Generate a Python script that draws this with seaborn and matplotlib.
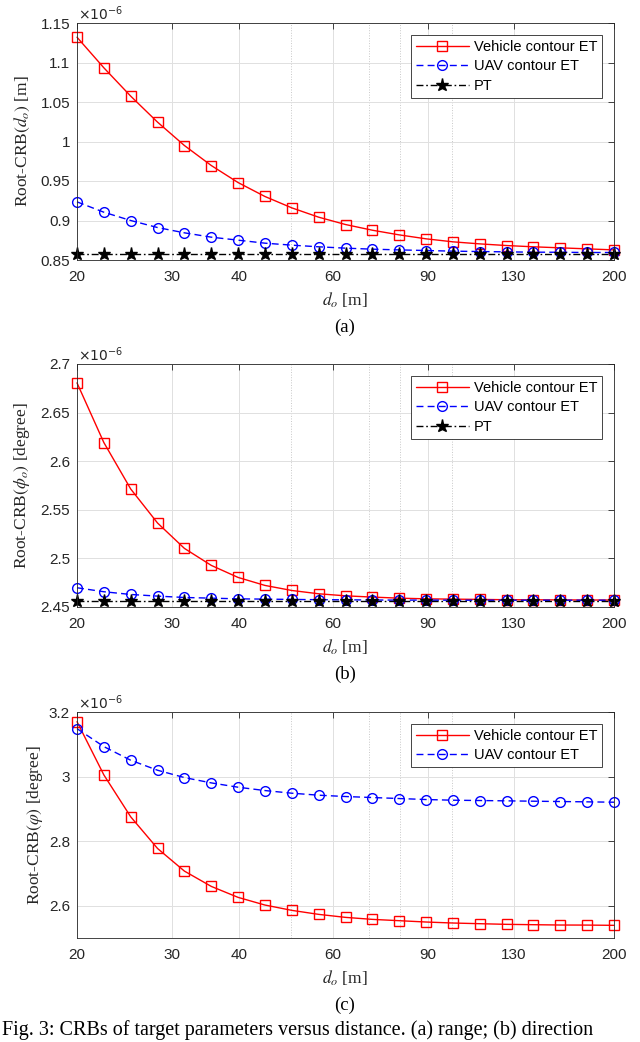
import matplotlib
matplotlib.use("Agg")
import matplotlib.pyplot as plt
import seaborn as sns
from matplotlib.ticker import NullFormatter

# distance grid (21 log-spaced points, metres)
d_o = [20.0, 22.44, 25.18, 28.25, 31.70, 35.57, 39.91, 44.77, 50.24, 56.37, 63.25,
       70.96, 79.62, 89.34, 100.24, 112.47, 126.19, 141.59, 158.87, 178.25, 200.0]

# (a) Root-CRB of range, in units of 1e-6 m
range_vehicle = [1.132, 1.0933, 1.0574, 1.0245, 0.9949, 0.9696, 0.948, 0.9304, 0.916, 0.9042, 0.8949,
                 0.8877, 0.8818, 0.8768, 0.873, 0.8704, 0.8683, 0.8667, 0.8654, 0.8641, 0.8628]
range_uav = [0.9236, 0.9105, 0.900, 0.8911, 0.8844, 0.8789, 0.8751, 0.8713, 0.8688, 0.8667, 0.865,
             0.8637, 0.8628, 0.862, 0.8612, 0.8607, 0.8603, 0.8599, 0.8598, 0.8595, 0.8595]
range_pt = [0.8578, 0.8578, 0.8578, 0.8578, 0.8578, 0.8578, 0.8578, 0.8578, 0.8578, 0.8578, 0.8578,
            0.8578, 0.8578, 0.8578, 0.8578, 0.8578, 0.8578, 0.8578, 0.8578, 0.8578, 0.8578]

# (b) Root-CRB of phi_o, in units of 1e-6 degree
phi_vehicle = [2.6806, 2.6192, 2.5714, 2.5364, 2.5103, 2.4928, 2.4804, 2.4722, 2.467, 2.4636, 2.4615,
               2.4602, 2.4591, 2.4584, 2.4581, 2.4578, 2.4575, 2.4574, 2.4573, 2.4572, 2.4572]
phi_uav = [2.4698, 2.4657, 2.4629, 2.4612, 2.4598, 2.4591, 2.4584, 2.4581, 2.4578, 2.4575, 2.4574,
           2.4572, 2.4571, 2.4571, 2.4570, 2.4570, 2.4570, 2.4570, 2.4570, 2.4570, 2.4570]
phi_pt = [2.4564, 2.4564, 2.4564, 2.4564, 2.4564, 2.4564, 2.4564, 2.4564, 2.4564, 2.4564, 2.4564,
          2.4564, 2.4564, 2.4564, 2.4564, 2.4564, 2.4564, 2.4564, 2.4564, 2.4564, 2.4564]

# (c) Root-CRB of varphi, in units of 1e-6 degree
vphi_vehicle = [3.1701, 3.0052, 2.8753, 2.7773, 2.7072, 2.6598, 2.6258, 2.6021, 2.5856, 2.5732, 2.5639,
                2.5577, 2.5536, 2.5495, 2.5464, 2.5443, 2.5423, 2.5412, 2.5402, 2.5400, 2.5392]
vphi_uav = [3.1485, 3.0928, 3.0506, 3.0196, 2.9969, 2.9804, 2.967, 2.9567, 2.9485, 2.9423, 2.9382,
            2.9351, 2.932, 2.9289, 2.9268, 2.9258, 2.9248, 2.9237, 2.9227, 2.9217, 2.9206]

x_ticks = [20, 30, 40, 60, 90, 130, 200]
x_minor = [50, 70, 80, 100]

sns.set_theme(style="white")
plt.rcParams["mathtext.fontset"] = "stix"
plt.rcParams["font.family"] = ["Liberation Sans", "DejaVu Sans"]

W, H = 640, 1042
fig = plt.figure(figsize=(W / 100, H / 100), dpi=100)
fig.patch.set_facecolor("white")

axis_col = "#262626"
serif = ["Liberation Serif", "DejaVu Serif"]


def px_axes(left, top, right, bottom):
    return fig.add_axes([left / W, 1 - bottom / H, (right - left) / W, (bottom - top) / H])


def style_axes(ax, ylim, yticks, ylabels):
    ax.set_xscale("log")
    ax.set_xlim(20, 200)
    ax.set_ylim(*ylim)
    ax.set_xticks(x_ticks, labels=[str(t) for t in x_ticks])
    ax.set_xticks(x_minor, minor=True)
    ax.xaxis.set_minor_formatter(NullFormatter())
    ax.set_yticks(yticks, labels=ylabels)
    ax.tick_params(axis="both", which="major", direction="in", length=4, width=0.6,
                   colors=axis_col, labelsize=11, top=True, right=True)
    ax.tick_params(axis="x", which="major", pad=7)
    ax.tick_params(axis="y", which="major", pad=5)
    ax.tick_params(which="minor", length=0)
    ax.grid(which="major", color="#e0e0e0", linewidth=0.7)
    ax.grid(which="minor", axis="x", color="#c8c8c8", linestyle=":", linewidth=0.7)
    ax.set_axisbelow(True)
    for s in ax.spines.values():
        s.set_color(axis_col)
        s.set_linewidth(0.6)
    for lab in ax.get_xticklabels() + ax.get_yticklabels():
        lab.set_fontfamily(["Liberation Sans", "DejaVu Sans"])


def draw(ax, y, label, color, ls, marker, ms, mfc):
    sns.lineplot(x=d_o, y=y, ax=ax, color=color, linestyle=ls, linewidth=1.0,
                 marker=marker, markersize=ms, markerfacecolor=mfc,
                 markeredgecolor=color, markeredgewidth=1.0, label=label,
                 clip_on=False, legend=False)


def add_legend(ax):
    leg = ax.legend(loc="upper right", fontsize=10.5, frameon=True, fancybox=False,
                    edgecolor=axis_col, framealpha=1, handlelength=3.6, handletextpad=0.35,
                    labelspacing=0.38, borderpad=0.35, borderaxespad=0.8)
    leg.get_frame().set_linewidth(0.6)
    for t in leg.get_texts():
        t.set_color("black")


def labels(left, top, bottom, ylab, ylab_x, letter):
    mid = (top + bottom) / 2
    fig.text(ylab_x / W, 1 - mid / H, ylab, rotation=90, ha="center", va="center",
             fontsize=12.5, family=serif, color=axis_col)
    fig.text(345 / W, 1 - (bottom + 40) / H, r"$d_o$ [m]", ha="center", va="center",
             fontsize=12.5, family=serif, color=axis_col)
    fig.text(345 / W, 1 - (bottom + 67) / H, letter, ha="center", va="center",
             fontsize=13.5, family=serif, color="black")
    fig.text((left + 1) / W, 1 - (top - 9) / H, r"$\times10^{-6}$", ha="left", va="center",
             fontsize=10, math_fontfamily="dejavusans", color=axis_col)


dash = (0, (5, 3))
dashdot = (0, (5, 2, 1.2, 2))

# (a)
ax1 = px_axes(77, 23, 614, 260)
draw(ax1, range_vehicle, "Vehicle contour ET", "#ff0000", "-", "s", 7, "none")
draw(ax1, range_uav, "UAV contour ET", "#0000ff", dash, "o", 7, "none")
draw(ax1, range_pt, "PT", "black", dashdot, "*", 9.5, "black")
style_axes(ax1, (0.85, 1.15), [0.85, 0.9, 0.95, 1.0, 1.05, 1.1, 1.15],
           ["0.85", "0.9", "0.95", "1", "1.05", "1.1", "1.15"])
add_legend(ax1)
labels(77, 23, 260, r"Root-CRB$(d_o)$ [m]", 22, "(a)")

# (b)
ax2 = px_axes(77, 364, 614, 607)
draw(ax2, phi_vehicle, "Vehicle contour ET", "#ff0000", "-", "s", 7, "none")
draw(ax2, phi_uav, "UAV contour ET", "#0000ff", dash, "o", 7, "none")
draw(ax2, phi_pt, "PT", "black", dashdot, "*", 9.5, "black")
style_axes(ax2, (2.45, 2.7), [2.45, 2.5, 2.55, 2.6, 2.65, 2.7],
           ["2.45", "2.5", "2.55", "2.6", "2.65", "2.7"])
add_legend(ax2)
labels(77, 364, 607, r"Root-CRB$(\phi_o)$ [degree]", 22, "(b)")

# (c)
ax3 = px_axes(77, 712, 614, 938)
draw(ax3, vphi_vehicle, "Vehicle contour ET", "#ff0000", "-", "s", 7, "none")
draw(ax3, vphi_uav, "UAV contour ET", "#0000ff", dash, "o", 7, "none")
style_axes(ax3, (2.5, 3.2), [2.6, 2.8, 3.0, 3.2], ["2.6", "2.8", "3", "3.2"])
add_legend(ax3)
labels(77, 712, 938, r"Root-CRB$(\varphi)$ [degree]", 35, "(c)")

# figure caption along the bottom edge
fig.text(2 / W, 1 - 1040 / H,
         "Fig. 3: CRBs of target parameters versus distance. (a) range; (b) direction",
         ha="left", va="bottom", fontsize=14.5, family=serif, color="black")

fig.savefig("out.png", dpi=100, facecolor="white")
